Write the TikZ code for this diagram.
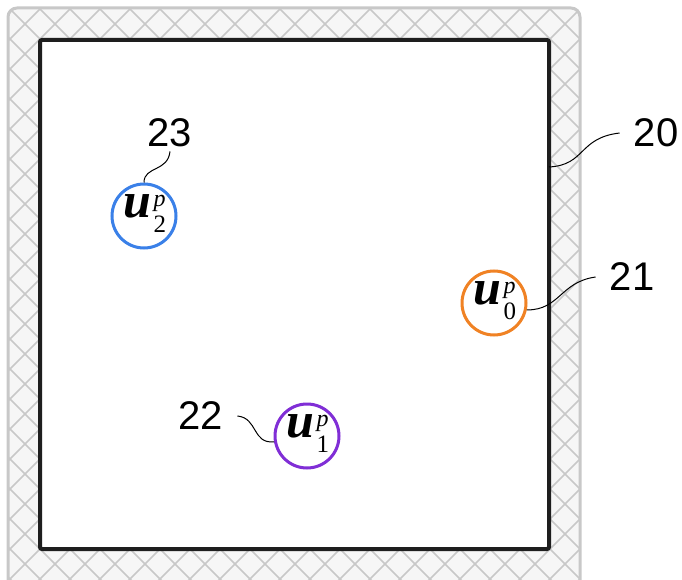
\documentclass[tikz,border=0pt]{standalone}
\usepackage{amsmath}
\usepackage{amssymb}
\usepackage{fontspec}
\setsansfont{Liberation Sans}
\newfontfamily\unitfont{Liberation Serif}
\usetikzlibrary{calc,positioning}
\definecolor{wallgray}{RGB}{200,200,200}
\definecolor{wallfill}{RGB}{246,246,246}
\definecolor{framedark}{RGB}{30,30,30}
\definecolor{ublue}{RGB}{58,128,232}
\definecolor{uorange}{RGB}{240,130,36}
\definecolor{upurple}{RGB}{128,46,214}
% u with superscript p and a subscript index
\newcommand\uvar[1]{{\unitfont\fontsize{50}{50}\selectfont\bfseries\itshape u}\kern2pt%
  \rlap{\raisebox{11pt}{\unitfont\fontsize{24}{24}\selectfont\itshape p}}%
  \raisebox{-15pt}{\unitfont\fontsize{25}{25}\selectfont #1}}

\begin{document}
\begin{tikzpicture}[x=1pt, y=-1pt,
      hatch/.style={draw=wallgray, line width=1.6pt},
      unit/.style={circle, draw, line width=3pt, fill=white, minimum size=64pt, inner sep=0pt},
      tag/.style={font=\sffamily\fontsize{40}{40}\selectfont, inner xsep=14pt, inner ysep=4pt},
      lead/.style={draw=black, line width=1pt}
    ]
      \useasboundingbox (0,0) rectangle (682,580);

      % wall band with cross hatch
      \fill[wallfill, rounded corners=9pt] (8,8) rectangle (580,600);
      \begin{scope}
        \clip[rounded corners=9pt] (8,8) rectangle (580,600);
        \foreach \c in {-599,-569,...,631}
          \draw[hatch] (\c,0) -- ++(620,620);
        \foreach \c in {49,79,...,1279}
          \draw[hatch] (\c,0) -- ++(-620,620);
      \end{scope}
      \draw[wallgray, line width=3pt, rounded corners=9pt] (8,8) rectangle (580,600);

      % room
      \draw[framedark, fill=white, line width=4pt, rounded corners=2pt] (40,40) rectangle (549,549);
      \coordinate (w20) at (549,167);

      \node[unit, draw=ublue] (u2) at (144,216) {};
      \node[unit, draw=uorange] (u0) at (494,303) {};
      \node[unit, draw=upurple] (u1) at (307,436) {};
      \node (t2) at ([xshift=1pt,yshift=2pt]u2.center) {\uvar{2}};
      \node (t0) at ([xshift=1pt,yshift=2pt]u0.center) {\uvar{0}};
      \node (t1) at ([xshift=1pt,yshift=2pt]u1.center) {\uvar{1}};

      \node[tag] (l20) at (656,133) {20};
      \node[tag] (l21) at (632,277) {21};
      \node[tag] (l22) at (201,416) {22};
      \node[tag] (l23) at (170,133) {23};

      \draw[lead] (w20) .. controls (586,165) and (578,138) .. (l20.west);
      \draw[lead] (u0.-12) .. controls (560,310) and (560,282) .. (l21.west);
      \draw[lead] (l22.east) .. controls (258,418) and (252,444) .. (u1.190);
      \draw[lead] (u2.north) .. controls (144,166) and (168,172) .. (l23.south);
    \end{tikzpicture}
\end{document}
